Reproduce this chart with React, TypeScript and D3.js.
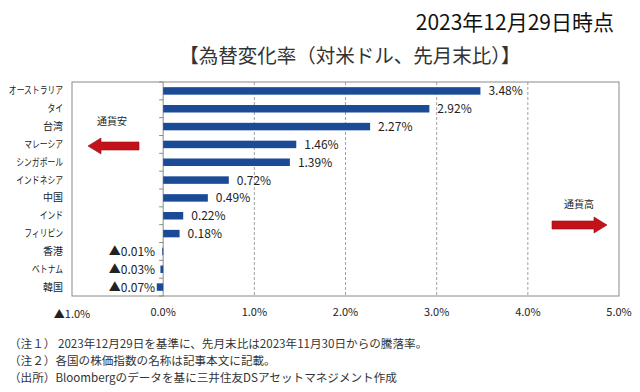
import { useEffect, useRef } from "react";
import * as d3 from "d3";

const categories = [
  "オーストラリア",
  "タイ",
  "台湾",
  "マレーシア",
  "シンガポール",
  "インドネシア",
  "中国",
  "インド",
  "フィリピン",
  "香港",
  "ベトナム",
  "韓国",
];
const changes = [3.48, 2.92, 2.27, 1.46, 1.39, 0.72, 0.49, 0.22, 0.18, -0.01, -0.03, -0.07];
const xTicks = [-1, 0, 1, 2, 3, 4, 5];
const notes = [
  "（注１） 2023年12月29日を基準に、先月末比は2023年11月30日からの騰落率。",
  "（注２）各国の株価指数の名称は記事本文に記載。",
  "（出所）Bloombergのデータを基に三井住友DSアセットマネジメント作成",
];

const FONT = "'Noto Sans CJK JP', 'Noto Sans', sans-serif";
const W = 640;
const H = 392;

// ▲ は日本式のマイナス表記
const fmt = (v: number, digits: number) =>
  (v < 0 ? "▲" : "") + Math.abs(v).toFixed(digits) + "%";

const hasKanji = (s: string) => /[\u4e00-\u9fff]/.test(s);

export default function App() {
  const ref = useRef<SVGSVGElement | null>(null);

  useEffect(() => {
    const svg = d3.select(ref.current);
    svg.selectAll("*").remove();

    const plot = { left: 72, right: 619, top: 82, bottom: 296 };

    const x = d3.scaleLinear().domain([-1, 5]).range([plot.left, plot.right]);
    const y = d3
      .scaleBand<string>()
      .domain(categories)
      .range([plot.top, plot.bottom])
      .paddingInner(0.58)
      .paddingOuter(0.29);

    svg.append("rect").attr("width", W).attr("height", H).attr("fill", "#fff");

    // titles
    svg
      .append("text")
      .attr("x", 614)
      .attr("y", 30)
      .attr("text-anchor", "end")
      .attr("font-family", FONT)
      .attr("font-size", 21)
      .attr("fill", "#111")
      .text("2023年12月29日時点");

    svg
      .append("text")
      .attr("x", 350)
      .attr("y", 63)
      .attr("text-anchor", "middle")
      .attr("font-family", FONT)
      .attr("font-size", 19.5)
      .attr("fill", "#333")
      .text("【為替変化率（対米ドル、先月末比）】");

    // gridlines
    svg
      .append("g")
      .selectAll("line")
      .data(xTicks.filter((d) => d > 0 && d < 5))
      .join("line")
      .attr("x1", (d) => x(d))
      .attr("x2", (d) => x(d))
      .attr("y1", plot.top)
      .attr("y2", plot.bottom)
      .attr("stroke", "#8a8a8a")
      .attr("stroke-width", 0.8)
      .attr("stroke-dasharray", "3,2");

    // frame
    svg
      .append("rect")
      .attr("x", plot.left)
      .attr("y", plot.top)
      .attr("width", plot.right - plot.left)
      .attr("height", plot.bottom - plot.top)
      .attr("fill", "none")
      .attr("stroke", "#8a8a8a")
      .attr("stroke-width", 1);

    // zero axis + category ticks
    const step = y.step();
    const axisG = svg.append("g");
    axisG
      .append("line")
      .attr("x1", x(0))
      .attr("x2", x(0))
      .attr("y1", plot.top)
      .attr("y2", plot.bottom)
      .attr("stroke", "#8a8a8a");
    axisG
      .selectAll("line.tick")
      .data(d3.range(categories.length + 1))
      .join("line")
      .attr("class", "tick")
      .attr("x1", x(0) - 4)
      .attr("x2", x(0))
      .attr("y1", (i) => plot.top + i * step)
      .attr("y2", (i) => plot.top + i * step)
      .attr("stroke", "#8a8a8a");

    // bars
    svg
      .append("g")
      .selectAll("rect")
      .data(changes)
      .join("rect")
      .attr("x", (d) => x(Math.min(0, d)))
      .attr("y", (_, i) => y(categories[i]) as number)
      .attr("width", (d) => Math.max(1, Math.abs(x(d) - x(0))))
      .attr("height", y.bandwidth())
      .attr("fill", "#1b4a97");

    // value labels
    svg
      .append("g")
      .selectAll("text")
      .data(changes)
      .join("text")
      .attr("x", (d) => (d < 0 ? x(0) - 8 : x(d) + 8))
      .attr("y", (_, i) => (y(categories[i]) as number) + y.bandwidth() / 2 + 4.5)
      .attr("text-anchor", (d) => (d < 0 ? "end" : "start"))
      .attr("font-family", FONT)
      .attr("font-size", 12)
      .attr("fill", "#222")
      .text((d) => fmt(d, 2));

    // category labels: katakana squeezed like Meiryo UI, kanji full width
    svg
      .append("g")
      .selectAll("text")
      .data(categories)
      .join("text")
      .attr(
        "transform",
        (d) =>
          `translate(63,${(y(d) as number) + y.bandwidth() / 2 + 3.5}) scale(${
            hasKanji(d) ? 1 : 0.78
          },1)`
      )
      .attr("text-anchor", "end")
      .attr("font-family", FONT)
      .attr("font-size", 10)
      .attr("fill", "#222")
      .text((d) => d);

    // x tick labels
    svg
      .append("g")
      .selectAll("text")
      .data(xTicks)
      .join("text")
      .attr("x", (d) => x(d))
      .attr("y", (d) => (d < 0 ? 318 : 316))
      .attr("text-anchor", "middle")
      .attr("font-family", FONT)
      .attr("font-size", 11)
      .attr("fill", "#222")
      .text((d) => fmt(d, 1));

    // direction arrows
    const arrow = (x0: number, x1: number, cy: number) => {
      const dir = Math.sign(x1 - x0);
      const head = 13;
      const xh = x1 - dir * head;
      const pts: [number, number][] = [
        [x0, cy - 4],
        [xh, cy - 4],
        [xh, cy - 8],
        [x1, cy],
        [xh, cy + 8],
        [xh, cy + 4],
        [x0, cy + 4],
      ];
      svg
        .append("path")
        .attr("d", d3.line()(pts) + "Z")
        .attr("fill", "#c4121b")
        .attr("stroke", "#9a0c12")
        .attr("stroke-width", 0.6);
    };
    arrow(139, 88, 146);
    arrow(552, 607, 225);

    svg
      .append("text")
      .attr("x", 112)
      .attr("y", 125)
      .attr("text-anchor", "middle")
      .attr("font-family", FONT)
      .attr("font-size", 10)
      .attr("fill", "#222")
      .text("通貨安");
    svg
      .append("text")
      .attr("x", 579)
      .attr("y", 208)
      .attr("text-anchor", "middle")
      .attr("font-family", FONT)
      .attr("font-size", 10)
      .attr("fill", "#222")
      .text("通貨高");

    // footnotes
    svg
      .append("g")
      .selectAll("text")
      .data(notes)
      .join("text")
      .attr("x", 9)
      .attr("y", (_, i) => 348 + i * 17)
      .attr("font-family", FONT)
      .attr("font-size", 11.6)
      .attr("fill", "#333")
      .text((d) => d);
  }, []);

  return (
    <svg
      ref={ref}
      width={W}
      height={H}
      style={{ position: "absolute", left: 0, top: 0, display: "block" }}
    />
  );
}
